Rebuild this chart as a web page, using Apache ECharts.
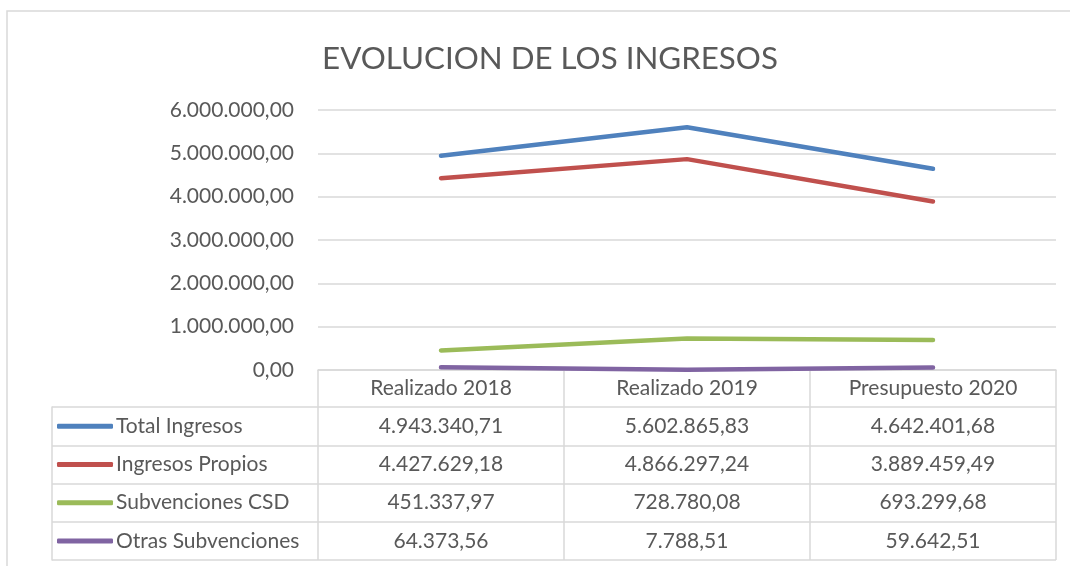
<!DOCTYPE html>
<html>
<head>
<meta charset="utf-8">
<script src="https://cdn.jsdelivr.net/npm/echarts@6/dist/echarts.min.js"></script>
<style>
  html, body { margin: 0; padding: 0; background: #fff; }
  #main { width: 1070px; height: 566px; }
</style>
</head>
<body>
<div id="main"></div>
<script>
const categories = ["Realizado 2018", "Realizado 2019", "Presupuesto 2020"];
const seriesNames = ["Total Ingresos", "Ingresos Propios", "Subvenciones CSD", "Otras Subvenciones"];
const totalIngresos = [4943340.71, 5602865.83, 4642401.68];
const ingresosPropios = [4427629.18, 4866297.24, 3889459.49];
const subvencionesCSD = [451337.97, 728780.08, 693299.68];
const otrasSubvenciones = [64373.56, 7788.51, 59642.51];
const yTicks = [0, 1000000, 2000000, 3000000, 4000000, 5000000, 6000000];

const colors = ["#4f81bd", "#c0504d", "#9bbb59", "#8064a2"];
const allData = [totalIngresos, ingresosPropios, subvencionesCSD, otrasSubvenciones];

// numbers in Spanish style: 4.943.340,71
function fmt(v) {
  const parts = v.toFixed(2).split(".");
  const ent = parts[0].replace(/\B(?=(\d{3})+(?!\d))/g, ".");
  return ent + "," + parts[1];
}

const chart = echarts.init(document.getElementById("main"));
const font = "Lato, sans-serif";
const fs = 21;
const txt = "#595959";
const gridColor = "#d9d9d9";
const rowH = 38.25;

// one extra x axis per table row, labels taken from the data arrays
const rowAxes = allData.map((arr, i) => ({
  type: "category",
  gridIndex: 0,
  position: "bottom",
  data: categories,
  offset: 37 + rowH * i,
  axisLine: { show: false },
  axisTick: { show: false },
  axisLabel: {
    margin: rowH / 2,
    verticalAlign: "middle",
    color: txt,
    fontFamily: font,
    fontSize: fs,
    formatter: (val, idx) => fmt(arr[idx]),
  },
}));

const option = {
  animation: false,
  title: {
    text: "EVOLUCION DE LOS INGRESOS",
    left: 545,
    top: 38,
    textAlign: "center",
    textStyle: { color: txt, fontFamily: font, fontSize: 31.3, fontWeight: "normal" },
  },
  legend: {
    orient: "vertical",
    left: 57,
    top: 407,
    padding: 0,
    itemGap: 0,
    itemWidth: 56,
    itemHeight: 5,
    icon: "roundRect",
    data: seriesNames,
    textStyle: {
      color: txt,
      fontFamily: font,
      fontSize: fs,
      lineHeight: rowH,
      height: rowH,
      padding: [0, 0, 0, -2],
    },
  },
  grid: [
    { left: 318, right: 14, top: 110, bottom: 196 },
    { left: 52, right: 14, top: 407, bottom: 6 },
  ],
  xAxis: [
    {
      type: "category",
      gridIndex: 0,
      data: categories,
      boundaryGap: true,
      axisLine: { show: true, lineStyle: { color: gridColor, width: 1.5 } },
      axisTick: { show: true, length: 190, inside: false, lineStyle: { color: gridColor, width: 1.5 } },
      axisLabel: {
        margin: 18,
        verticalAlign: "middle",
        color: txt,
        fontFamily: font,
        fontSize: fs,
      },
    },
    ...rowAxes,
    {
      type: "value",
      gridIndex: 1,
      show: false,
      min: 0,
      max: 1,
    },
  ],
  yAxis: [
    {
      type: "value",
      gridIndex: 0,
      min: yTicks[0],
      max: yTicks[yTicks.length - 1],
      interval: 1000000,
      axisLine: { show: false },
      axisTick: { show: false },
      splitLine: { lineStyle: { color: gridColor, width: 1.5 } },
      axisLabel: {
        margin: 24,
        color: txt,
        fontFamily: font,
        fontSize: fs,
        formatter: (v) => fmt(v),
      },
    },
    {
      type: "value",
      gridIndex: 1,
      min: 0,
      max: 4,
      interval: 1,
      inverse: true,
      axisLine: { show: true, lineStyle: { color: gridColor, width: 1.5 } },
      axisTick: { show: false },
      axisLabel: { show: false },
      splitLine: { show: true, lineStyle: { color: gridColor, width: 1.5 } },
    },
  ],
  graphic: [
    {
      type: "rect",
      silent: true,
      shape: { x: 7, y: 11, width: 1080, height: 580 },
      style: { fill: null, stroke: gridColor, lineWidth: 1.5 },
      z: -1,
    },
  ],
  series: seriesNames.map((name, i) => ({
    name: name,
    type: "line",
    xAxisIndex: 0,
    yAxisIndex: 0,
    data: allData[i],
    symbol: "none",
    color: colors[i],
    lineStyle: { width: 4.5, color: colors[i], cap: "round", join: "round" },
  })),
};

chart.setOption(option);
</script>
</body>
</html>
